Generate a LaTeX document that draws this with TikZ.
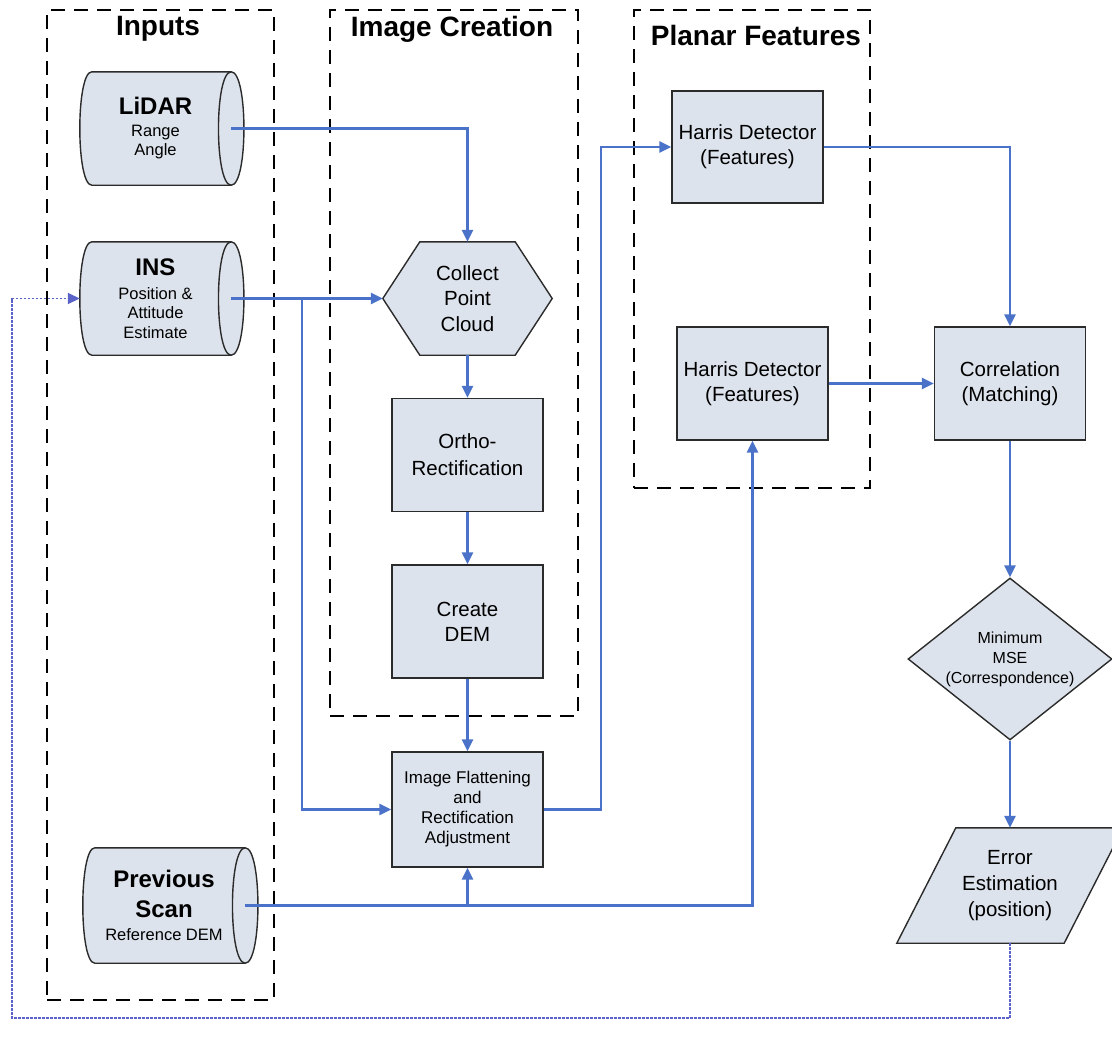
\documentclass[tikz,border=0pt]{standalone}
\usepackage{fontspec}
\setmainfont{Liberation Sans}
\usetikzlibrary{arrows.meta,calc,shapes.geometric,backgrounds}
\definecolor{boxfill}{HTML}{DDE3EC}
\definecolor{edgecol}{HTML}{2B2B2B}
\definecolor{flowcol}{HTML}{4A72C8}
\definecolor{fbcol}{HTML}{5B63C9}
\newcommand\sttl{\fontsize{24}{26}\selectfont\bfseries}
\begin{document}
\begin{tikzpicture}[x=1pt,y=-1pt,
  group/.style={draw=black, line width=2.4pt, dash pattern=on 14pt off 9pt, inner sep=0pt},
  gtitle/.style={font=\fontsize{28}{30}\selectfont\bfseries, inner sep=0pt},
  procbox/.style={draw=edgecol, fill=boxfill, line width=1.4pt, minimum width=151pt, minimum height=113pt, align=center, inner sep=0pt, font=\fontsize{20.5}{25}\selectfont},
  shapetext/.style={align=center, inner sep=0pt, font=\fontsize{20.5}{25.5}\selectfont},
  storetext/.style={align=center, inner sep=0pt, font=\fontsize{16.5}{19.5}\selectfont},
  outline/.style={draw=edgecol, fill=boxfill, line width=1.4pt},
  flowarrow/.style={draw=flowcol, line width=2.4pt, -{Triangle[length=12pt,width=11pt]}},
  fbarrow/.style={draw=fbcol, line width=1.7pt, dash pattern=on 2.5pt off 1.5pt, -{Triangle[length=12pt,width=11pt]}}
]
\useasboundingbox (0,0) rectangle (1112,1042);

% groups
\node[group, minimum width=227pt, minimum height=990pt] (gin) at (160.5,505) {};
\node[group, minimum width=248pt, minimum height=706pt] (gic) at (454,363) {};
\node[group, minimum width=236pt, minimum height=478pt] (gpf) at (752,249) {};
\node[gtitle] (tin) at (158,29) {Inputs};
\node[gtitle] (tic) at (452,29) {Image Creation};
\node[gtitle] (tpf) at (756,35) {Planar Features};

% storage nodes (text + anchors)
\node[storetext, minimum width=151pt, minimum height=113pt] (lidar) at (155.5,128.5) {{\sttl LiDAR}\\[2pt]Range\\Angle};
\node[storetext, minimum width=151pt, minimum height=113pt] (ins) at (155.5,298.5) {{\sttl INS}\\[4pt]Position \&\\Attitude\\Estimate};
\node[storetext, minimum width=162pt, minimum height=115pt] (prev) at (164,905.5) {{\sttl Previous}\\[10pt]{\sttl Scan}\\[4pt]Reference DEM};

% hexagon
\node[shapetext, minimum width=169pt, minimum height=113pt] (hex) at (467.5,298.5) {Collect\\Point\\Cloud};

% process boxes
\node[procbox] (ortho) at (467.5,455) {Ortho-\\[2pt]Rectification};
\node[procbox] (dem) at (467.5,621.5) {Create\\DEM};
\node[procbox, minimum height=115pt, font=\fontsize{17}{20}\selectfont] (flat) at (467.5,809.5) {Image Flattening\\and\\Rectification\\Adjustment};
\node[procbox, minimum height=112pt] (h1) at (747.5,147) {Harris Detector\\(Features)};
\node[procbox] (h2) at (752.5,383.5) {Harris Detector\\(Features)};
\node[procbox] (corr) at (1010,383.5) {Correlation\\(Matching)};
\node[draw=edgecol, fill=boxfill, line width=1.4pt, shape=diamond, minimum width=204pt, minimum height=162pt, inner sep=0pt, aspect=1.26, align=center, font=\fontsize{16}{20}\selectfont] (mse) at (1010,659) {Minimum\\MSE\\(Correspondence)};
\node[shapetext, minimum width=226pt, minimum height=115pt, font=\fontsize{20.5}{26}\selectfont] (par) at (1010,885.5) {Error\\Estimation\\(position)};

% outlines behind text
\begin{scope}[on background layer]
  \fill[white] (0,0) rectangle (1112,1042);
  \clip (0,0) rectangle (1112,1042);
  \foreach \n in {lidar,ins,prev}{
    \path[outline] ($(\n.north west)+(12,0)$) -- (\n.north east)
      .. controls +(17,0) and +(17,0) .. (\n.south east)
      -- ($(\n.south west)+(12,0)$)
      .. controls +(-16,0) and +(-16,0) .. ($(\n.north west)+(12,0)$) -- cycle;
    \draw[draw=edgecol, line width=1.4pt] (\n.north east) .. controls +(-17,0) and +(-17,0) .. (\n.south east);
  }
  \path[outline] (hex.west) -- ($(hex.north west)+(37,0)$) -- ($(hex.north east)+(-37,0)$)
     -- (hex.east) -- ($(hex.south east)+(-37,0)$) -- ($(hex.south west)+(37,0)$) -- cycle;
  \path[outline] (par.south west) -- ($(par.north west)+(59,0)$) -- (par.north east)
     -- ($(par.south east)+(-59,0)$) -- cycle;
\end{scope}

% connectors
\coordinate (bx) at (302,298.5);
\coordinate (jx) at (601,0);
\coordinate (fbc) at (12,1018);
\draw[flowarrow] (lidar.east) -| (hex.north);
\draw[flowarrow] (ins.east) -- (hex.west);
\draw[flowarrow] (bx) |- (flat.west);
\draw[flowarrow] (hex.south) -- (ortho.north);
\draw[flowarrow] (ortho.south) -- (dem.north);
\draw[flowarrow] (dem.south) -- (flat.north);
\draw[flowarrow] (flat.east) -| (jx |- h1.west) -- (h1.west);
\draw[flowarrow] (prev.east) -| (h2.south);
\draw[flowarrow] (prev.east -| flat.south) -- (flat.south);
\draw[flowarrow] (h1.east) -| (corr.north);
\draw[flowarrow] (h2.east) -- (corr.west);
\draw[flowarrow] (corr.south) -- (mse.north);
\draw[flowarrow] (mse.south) -- (par.north);
\draw[fbarrow] (par.south) |- (fbc) |- (ins.west);
\end{tikzpicture}
\end{document}
